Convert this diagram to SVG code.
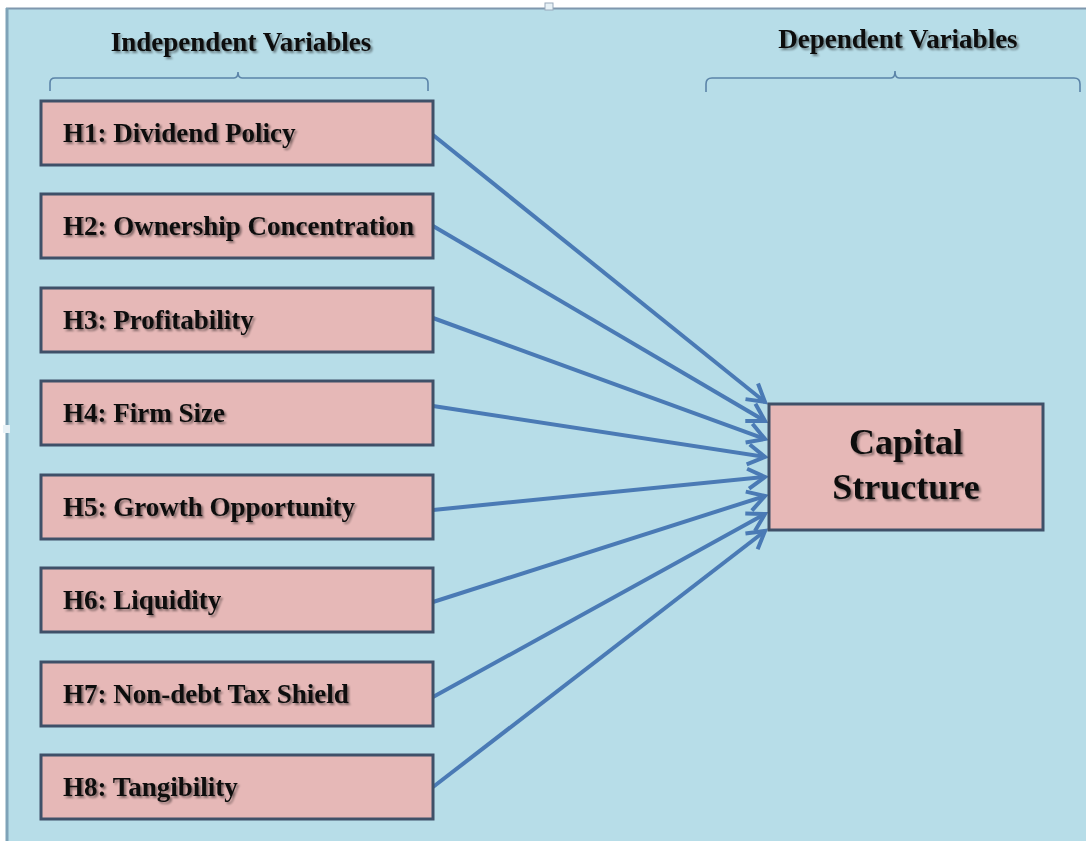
<svg xmlns="http://www.w3.org/2000/svg" width="1086" height="841" viewBox="0 0 1086 841">
<defs>
<style>
.bg{fill:#b7dde8}
.box{fill:#e6b8b7;stroke:#3f5068;stroke-width:3}
.lbl{font-family:"Liberation Serif","Times New Roman",serif;font-weight:bold;font-size:27px;fill:#111}
.big{font-family:"Liberation Serif","Times New Roman",serif;font-weight:bold;font-size:36px;fill:#111;text-anchor:middle}
.hdr{font-family:"Liberation Serif","Times New Roman",serif;font-weight:bold;font-size:27px;fill:#111;text-anchor:middle}
.br{fill:none;stroke:#5b84a8;stroke-width:1.6}
.con{fill:none;stroke:#4a7ab5;stroke-width:4;marker-end:url(#ah)}
</style>
<marker id="ah" markerWidth="1" markerHeight="1" refX="0" refY="0" orient="auto" markerUnits="userSpaceOnUse" overflow="visible">
<path d="M-17,-10 L0,0 L-17,10" fill="none" stroke="#4a7ab5" stroke-width="4" stroke-linejoin="miter"/>
</marker>
<filter id="sh" x="-5%" y="-20%" width="110%" height="140%">
<feGaussianBlur in="SourceAlpha" stdDeviation="0.8"/>
<feOffset dx="1.5" dy="1.5" result="o"/>
<feComponentTransfer><feFuncA type="linear" slope="0.45"/></feComponentTransfer>
<feMerge><feMergeNode/><feMergeNode in="SourceGraphic"/></feMerge>
</filter>
</defs>
<rect x="0" y="0" width="1086" height="841" fill="#ffffff"/>
<rect class="bg" x="6" y="8" width="1080" height="833"/>
<line x1="6" y1="8.5" x2="1086" y2="8.5" stroke="#7f97ad" stroke-width="2"/>
<line x1="7" y1="8" x2="7" y2="841" stroke="#7fa3b8" stroke-width="3"/>
<rect x="545" y="3" width="8" height="7" fill="#e8f2f7" stroke="#9ab" stroke-width="1"/>
<rect x="3" y="425" width="7" height="8" fill="#e8f2f7"/>

<g id="headers">
<text class="hdr" x="241" y="51" filter="url(#sh)">Independent Variables</text>
<text class="hdr" x="898" y="48" filter="url(#sh)">Dependent Variables</text>
<path class="br" d="M50,91 V83 Q50,78 55,78 H234 Q238,78 238,72 Q238,78 242,78 H423 Q428,78 428,83 V91"/>
<path class="br" d="M706,92 V84 Q706,78 712,78 H891 Q895,78 895,71 Q895,78 899,78 H1074 Q1080,78 1080,84 V92"/>
</g>

<g id="connectors">
<line class="con" x1="433" y1="135" x2="765" y2="402"/>
<line class="con" x1="433" y1="226" x2="765" y2="421"/>
<line class="con" x1="433" y1="318" x2="765" y2="439"/>
<line class="con" x1="433" y1="406" x2="765" y2="457"/>
<line class="con" x1="433" y1="510" x2="765" y2="477"/>
<line class="con" x1="433" y1="602" x2="765" y2="496"/>
<line class="con" x1="433" y1="697" x2="765" y2="514"/>
<line class="con" x1="433" y1="787" x2="765" y2="531"/>
</g>

<g id="h1"><rect class="box" x="41" y="101" width="392" height="64"/><text class="lbl" x="63" y="142" filter="url(#sh)">H1: Dividend Policy</text></g>
<g id="h2"><rect class="box" x="41" y="194" width="392" height="64"/><text class="lbl" x="63" y="235" filter="url(#sh)">H2: Ownership Concentration</text></g>
<g id="h3"><rect class="box" x="41" y="288" width="392" height="64"/><text class="lbl" x="63" y="329" filter="url(#sh)">H3: Profitability</text></g>
<g id="h4"><rect class="box" x="41" y="381" width="392" height="64"/><text class="lbl" x="63" y="422" filter="url(#sh)">H4: Firm Size</text></g>
<g id="h5"><rect class="box" x="41" y="475" width="392" height="64"/><text class="lbl" x="63" y="516" filter="url(#sh)">H5: Growth Opportunity</text></g>
<g id="h6"><rect class="box" x="41" y="568" width="392" height="64"/><text class="lbl" x="63" y="609" filter="url(#sh)">H6: Liquidity</text></g>
<g id="h7"><rect class="box" x="41" y="662" width="392" height="64"/><text class="lbl" x="63" y="703" filter="url(#sh)">H7: Non-debt Tax Shield</text></g>
<g id="h8"><rect class="box" x="41" y="755" width="392" height="64"/><text class="lbl" x="63" y="796" filter="url(#sh)">H8: Tangibility</text></g>

<g id="capital"><rect class="box" x="769" y="404" width="274" height="126"/><text class="big" x="906" y="454" filter="url(#sh)">Capital</text><text class="big" x="906" y="499" filter="url(#sh)">Structure</text></g>
</svg>
